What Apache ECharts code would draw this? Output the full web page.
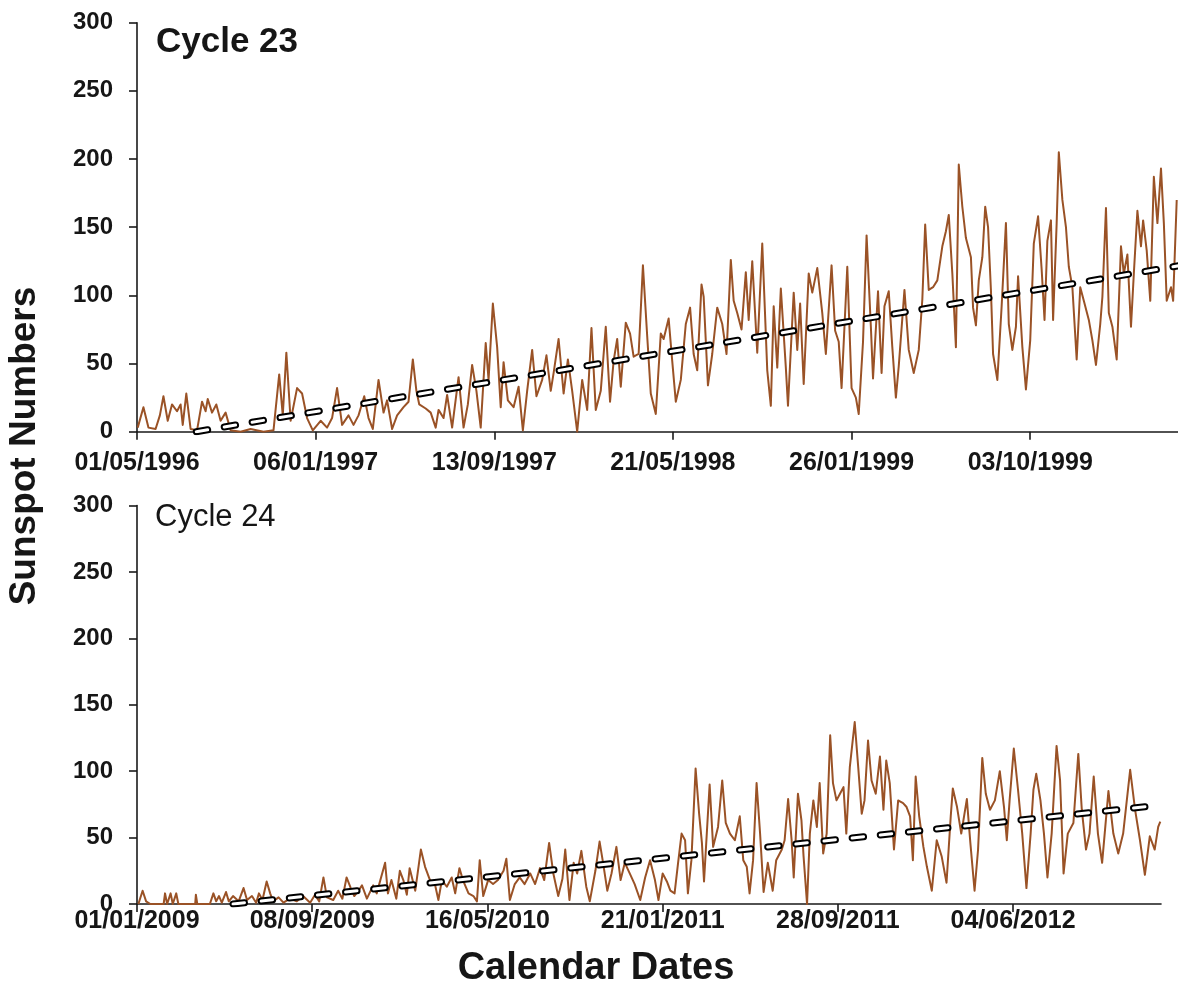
<!DOCTYPE html>
<html>
<head>
<meta charset="utf-8">
<script src="https://cdn.jsdelivr.net/npm/echarts@6.0.0/dist/echarts.min.js"></script>
<style>
html,body{margin:0;padding:0;background:#fff;}
#chart{width:1178px;height:988px;}
</style>
</head>
<body>
<div id="chart"></div>
<script>
// ---- tick labels (every 250 days from the first date) ----
const tickStepDays = 250;
const axisSpanDays = 1461;
const tickLabels23 = ['01/05/1996','06/01/1997','13/09/1997','21/05/1998','26/01/1999','03/10/1999'];
const tickLabels24 = ['01/01/2009','08/09/2009','16/05/2010','21/01/2011','28/09/2011','04/06/2012'];

// ---- Cycle 23 sunspot numbers (day offset from 01/05/1996, value) ----
const c23Days = [1,9,16,26,32,37,43,49,56,61,64,69,75,84,91,96,99,105,111,117,124,131,145,159,177,191,199,204,209,215,224,231,238,246,257,266,273,280,287,296,303,310,318,324,330,338,345,350,357,364,373,380,386,391,395,404,411,418,422,429,434,441,450,457,463,469,475,481,488,492,498,504,509,513,519,527,534,540,546,553,559,567,573,579,583,590,597,603,609,616,623,630,636,642,649,656,662,667,672,677,684,690,695,702,708,714,719,726,733,737,744,749,754,761,768,774,779,784,790,793,799,805,812,819,825,831,835,840,846,852,856,861,868,875,882,887,891,896,901,908,911,919,924,928,933,940,945,952,959,964,972,977,982,986,994,1000,1006,1010,1016,1021,1027,1030,1037,1042,1046,1052,1057,1062,1066,1074,1080,1087,1094,1099,1103,1108,1114,1120,1127,1132,1136,1141,1146,1150,1155,1160,1167,1170,1174,1178,1183,1187,1191,1195,1198,1204,1210,1216,1220,1225,1230,1233,1239,1244,1250,1255,1261,1266,1270,1274,1279,1282,1287,1290,1295,1300,1304,1309,1315,1320,1325,1332,1337,1342,1348,1351,1356,1360,1365,1371,1377,1381,1386,1391,1395,1400,1405,1408,1413,1418,1423,1428,1433,1437,1441,1447,1450,1455];
const c23Values = [3,18,3,2,12,26,8,20,15,20,5,28,2,1,22,15,24,14,20,8,14,1,0,2,0,1,42,12,58,8,32,28,10,1,8,3,10,32,5,12,5,12,26,10,2,38,14,23,2,12,18,22,53,30,20,17,14,3,16,10,27,3,40,3,20,49,30,3,65,38,94,62,18,51,23,18,33,1,30,60,26,38,56,30,43,68,28,53,30,0,38,16,76,16,30,77,22,52,68,33,80,72,55,57,122,70,28,13,72,68,83,52,22,38,79,91,57,45,108,99,34,57,91,79,57,126,96,87,75,117,82,125,58,138,45,19,92,47,105,47,19,102,60,94,35,116,102,120,87,57,122,74,66,32,121,32,25,13,66,144,77,39,103,43,92,103,62,25,48,104,60,43,60,97,152,104,106,111,136,147,159,116,62,196,165,142,128,91,78,111,128,165,150,104,57,38,92,153,79,60,77,114,62,31,67,138,158,119,82,140,155,82,153,205,170,150,121,106,53,106,96,82,67,49,79,99,164,87,77,53,136,116,130,77,116,162,136,155,133,96,187,153,193,153,96,106,96,170];

// ---- Cycle 24 sunspot numbers (day offset from 01/01/2009, value) ----
const c24Days = [2,8,13,19,38,40,43,48,51,56,59,83,84,86,104,109,113,117,121,127,131,137,145,152,157,164,170,174,179,185,190,194,202,209,218,228,237,247,254,260,266,271,280,287,293,299,305,310,316,321,328,337,342,354,358,363,370,375,380,385,389,397,405,411,418,425,430,435,442,449,454,460,465,473,480,485,489,494,501,508,515,523,527,532,539,546,553,561,568,575,581,588,594,601,607,611,617,623,628,634,641,646,654,660,665,671,677,684,690,696,703,710,718,725,732,739,744,750,756,761,767,772,777,782,786,791,797,802,806,809,817,822,829,835,840,846,853,860,865,870,874,879,884,889,894,900,907,912,920,924,929,934,937,943,948,951,956,960,965,970,974,979,984,989,993,998,1003,1008,1012,1017,1024,1029,1034,1038,1043,1048,1054,1060,1065,1069,1074,1080,1086,1093,1098,1103,1107,1111,1116,1122,1127,1134,1141,1148,1155,1161,1164,1170,1176,1184,1189,1195,1200,1206,1211,1217,1224,1231,1237,1241,1245,1251,1257,1263,1269,1275,1279,1283,1289,1294,1299,1305,1312,1317,1322,1328,1336,1343,1348,1354,1359,1365,1371,1377,1386,1393,1400,1407,1417,1424,1431,1438,1445,1452,1457,1460];
const c24Values = [0,10,2,0,0,8,0,8,0,8,0,0,7,0,0,8,2,6,1,9,2,6,2,12,3,6,1,8,3,17,8,2,5,1,4,2,6,1,7,2,20,5,3,10,4,20,12,6,10,14,4,14,8,31,8,18,4,25,18,7,27,10,41,28,18,15,3,18,13,20,8,27,18,8,6,2,33,6,18,15,18,25,34,3,15,20,15,23,15,27,18,46,23,6,19,41,3,31,23,40,13,2,25,47,31,10,23,43,18,31,23,15,3,20,33,18,3,23,17,10,8,31,53,48,8,33,102,68,46,17,90,43,58,93,61,53,48,66,33,28,8,33,91,53,9,31,10,33,41,48,79,48,20,83,63,36,0,53,78,58,91,38,53,127,91,78,83,88,53,103,137,103,68,78,123,93,83,111,71,108,91,41,78,76,73,66,33,96,66,43,28,10,48,36,16,66,87,73,53,79,46,10,41,110,83,71,78,100,73,48,78,117,86,53,12,53,86,98,78,53,20,53,119,93,23,53,61,113,71,41,53,96,53,31,85,53,38,53,101,71,48,22,51,41,58,62];

// ---- linear trend lines (start where trend is 0, end at axis end) ----
const trend23Days = [83, 1461];
const trend23Values = [0, 122];
const trend24Days = [137, 1461];
const trend24Values = [0, 74.5];

const yMin = 0, yMax = 300, yStep = 50;

const pairs = (d, v) => d.map((x, i) => [x, v[i]]);

const textColor = '#161616';
const lineColor = '#9a5226';
const tickFont = 'Liberation Sans, Arial, sans-serif';

function xAxisFor(gridIndex, labels, margin) {
  const vals = labels.map((_, i) => i * tickStepDays);
  return {
    type: 'value', gridIndex, min: 0, max: axisSpanDays, interval: tickStepDays,
    axisLine: { show: true, onZero: false, lineStyle: { color: '#1a1a1a', width: 1.6 } },
    axisTick: { show: true, inside: false, length: 8, customValues: vals, lineStyle: { color: '#1a1a1a', width: 1.6 } },
    axisLabel: {
      show: true, customValues: vals, margin,
      formatter: v => { const k = Math.round(v / tickStepDays); return (k * tickStepDays === v && labels[k]) ? labels[k] : ''; },
      color: textColor, fontSize: 25, fontWeight: 'bold', fontFamily: tickFont
    },
    splitLine: { show: false }
  };
}
function yAxisFor(gridIndex) {
  return {
    type: 'value', gridIndex, min: yMin, max: yMax, interval: yStep,
    axisLine: { show: true, onZero: false, lineStyle: { color: '#1a1a1a', width: 1.6 } },
    axisTick: { show: true, inside: false, length: 8, lineStyle: { color: '#1a1a1a', width: 1.6 } },
    axisLabel: { margin: 24, color: textColor, fontSize: 24, fontWeight: 'bold', fontFamily: tickFont },
    splitLine: { show: false }
  };
}
function trendSeries(axisIndex, d, v) {
  const data = pairs(d, v);
  return [
    { type: 'line', xAxisIndex: axisIndex, yAxisIndex: axisIndex, data, showSymbol: false, silent: true, z: 5,
      lineStyle: { color: '#000', width: 7, type: [11.5, 16.8], cap: 'round' } },
    { type: 'line', xAxisIndex: axisIndex, yAxisIndex: axisIndex, data, showSymbol: false, silent: true, z: 6,
      lineStyle: { color: '#fff', width: 3, type: [11.5, 16.8], cap: 'round' } }
  ];
}
function dataSeries(axisIndex, d, v) {
  return { type: 'line', xAxisIndex: axisIndex, yAxisIndex: axisIndex, data: pairs(d, v), showSymbol: false,
    silent: true, z: 3, lineStyle: { color: lineColor, width: 2, join: 'round' } };
}

const chart = echarts.init(document.getElementById('chart'), null, { renderer: 'canvas' });
chart.setOption({
  animation: false,
  backgroundColor: '#fff',
  grid: [
    { left: 137, top: 22.7, width: 1044, height: 409, containLabel: false, outerBoundsMode: 'none', show: false },
    { left: 137, top: 505.5, width: 1024, height: 398.5, containLabel: false, outerBoundsMode: 'none', show: false }
  ],
  xAxis: [xAxisFor(0, tickLabels23, 19), xAxisFor(1, tickLabels24, 5)],
  yAxis: [yAxisFor(0), yAxisFor(1)],
  series: [
    dataSeries(0, c23Days, c23Values),
    ...trendSeries(0, trend23Days, trend23Values),
    dataSeries(1, c24Days, c24Values),
    ...trendSeries(1, trend24Days, trend24Values)
  ],
  graphic: [
    { type: 'text', x: 156, y: 42, silent: true,
      style: { text: 'Cycle 23', font: 'bold 35px "Liberation Sans", Arial, sans-serif', fill: textColor, align: 'left', verticalAlign: 'middle' } },
    { type: 'text', x: 155, y: 517, silent: true,
      style: { text: 'Cycle 24', font: '31px "Liberation Sans", Arial, sans-serif', fill: textColor, align: 'left', verticalAlign: 'middle' } },
    { type: 'text', x: 25, y: 446, rotation: Math.PI / 2, silent: true,
      style: { text: 'Sunspot Numbers', font: 'bold 37px "Liberation Sans", Arial, sans-serif', fill: textColor, align: 'center', verticalAlign: 'middle' } },
    { type: 'text', x: 596, y: 969, silent: true,
      style: { text: 'Calendar Dates', font: 'bold 38px "Liberation Sans", Arial, sans-serif', fill: textColor, align: 'center', verticalAlign: 'middle' } }
  ]
});
</script>
</body>
</html>
